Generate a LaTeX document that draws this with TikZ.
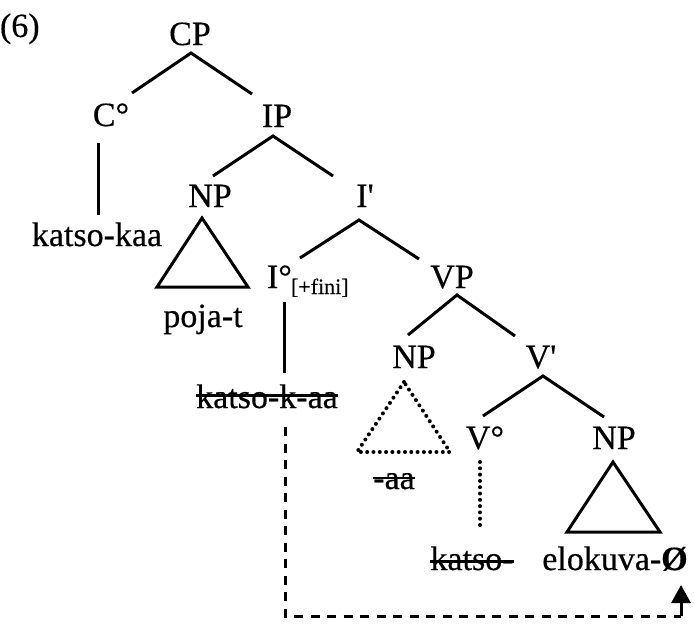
\documentclass[tikz,border=0pt]{standalone}
\usepackage{fontspec}
\setmainfont{Liberation Serif}[FakeBold=0.4]
\usetikzlibrary{arrows.meta}
\begin{document}
\begin{tikzpicture}[x=1pt,y=-1pt,
  lbl/.style={inner sep=0pt, outer sep=0pt, anchor=base, font=\fontsize{34}{40}\selectfont},
  sublbl/.style={inner sep=0pt, outer sep=0pt, anchor=base west, font=\fontsize{22}{24}\selectfont},
  edge/.style={line width=3pt},
  dotline/.style={line width=4pt, line cap=round, dash pattern=on 0pt off 6.3pt},
  dashline/.style={line width=3pt, dash pattern=on 9pt off 7.5pt},
  strike/.style={line width=2.2pt}]
\useasboundingbox (0,0) rectangle (694,625);
% labels
\node[lbl, anchor=base west] (ex) at (0,37) {(6)};
\node[lbl] (CP) at (190,45) {CP};
\node[lbl] (C0) at (111,126) {C°};
\node[lbl] (IP) at (277,127) {IP};
\node[lbl] (w1) at (97,246) {katso-kaa};
\node[lbl] (NP1) at (210,207) {NP};
\node[lbl] (Ibar) at (365,207) {I\textquotesingle};
\node[lbl, anchor=base west] (I0) at (267,288) {I°};
\node[sublbl] (Isub) at (291,294) {[+fini]};
\node[lbl] (VP) at (452,288) {VP};
\node[lbl] (w2) at (203,327) {poja-t};
\node[lbl] (NP2) at (414,368) {NP};
\node[lbl] (Vbar) at (541,368) {V\textquotesingle};
\node[lbl] (w3) at (267,408) {katso-k-aa};
\node[lbl] (V0) at (485,449) {V°};
\node[lbl] (NP3) at (614,449) {NP};
\node[lbl] (w4) at (394,489) {-aa};
\node[lbl] (w5) at (472,570) {katso-};
\node[lbl] (w6) at (615,570) {elokuva-\textbf{Ø}};
% connector end points
\coordinate (CPb) at (191,53);
\coordinate (C0t) at (132,93);
\coordinate (IPt) at (252,94);
\coordinate (C0b) at (98,143);
\coordinate (w1t) at (98,215);
\coordinate (IPb) at (273,136);
\coordinate (NP1t) at (213,176);
\coordinate (Ibart) at (333,176);
\coordinate (NP1a) at (202,218);
\coordinate (NP1l) at (157,287);
\coordinate (NP1r) at (248,287);
\coordinate (Ibarb) at (359,220);
\coordinate (I0t) at (300,258);
\coordinate (VPt) at (419,259);
\coordinate (I0b) at (284,302);
\coordinate (w3t) at (284,373);
\coordinate (VPb) at (457,295);
\coordinate (NP2t) at (408,335);
\coordinate (Vbart) at (515,336);
\coordinate (NP2a) at (404,382);
\coordinate (NP2l) at (357,452);
\coordinate (NP2r) at (450,452);
\coordinate (Vbarb) at (543,376);
\coordinate (V0t) at (483,416);
\coordinate (NP3t) at (604,417);
\coordinate (V0b) at (480,462);
\coordinate (w5t) at (480,527);
\coordinate (NP3a) at (613,462);
\coordinate (NP3l) at (567,532);
\coordinate (NP3r) at (660,532);
\coordinate (mvS) at (285,427);
\coordinate (mvC) at (285,616);
\coordinate (mvE) at (681,616);
\coordinate (mvT) at (681,585);
% tree edges
\draw[edge] (C0t) -- (CPb) -- (IPt);
\draw[edge] (C0b) -- (w1t);
\draw[edge] (NP1t) -- (IPb) -- (Ibart);
\draw[edge, line join=miter] (NP1a) -- (NP1l) -- (NP1r) -- cycle;
\draw[edge] (I0t) -- (Ibarb) -- (VPt);
\draw[edge] (I0b) -- (w3t);
\draw[edge] (NP2t) -- (VPb) -- (Vbart);
\draw[dotline] (NP2a) -- (NP2l) -- (NP2r) -- cycle;
\draw[edge] (V0t) -- (Vbarb) -- (NP3t);
\draw[dotline] (V0b) -- (w5t);
\draw[edge, line join=miter] (NP3a) -- (NP3l) -- (NP3r) -- cycle;
% strike-throughs
\draw[strike] ([yshift=12.5pt]w3.base west) -- ([yshift=12.5pt]w3.base east);
\draw[strike] ([yshift=11pt]w4.base west) -- ([yshift=11pt]w4.base east);
\draw[strike] ([yshift=8.5pt]w5.base west) -- ([yshift=8.5pt]w5.base east);
% movement arrow
\draw[dashline] (mvS) -- (mvC) -- (mvE);
\draw[line width=3pt, -{Triangle[length=18pt,width=19pt]}] (mvE) -- (mvT);
\end{tikzpicture}
\end{document}
